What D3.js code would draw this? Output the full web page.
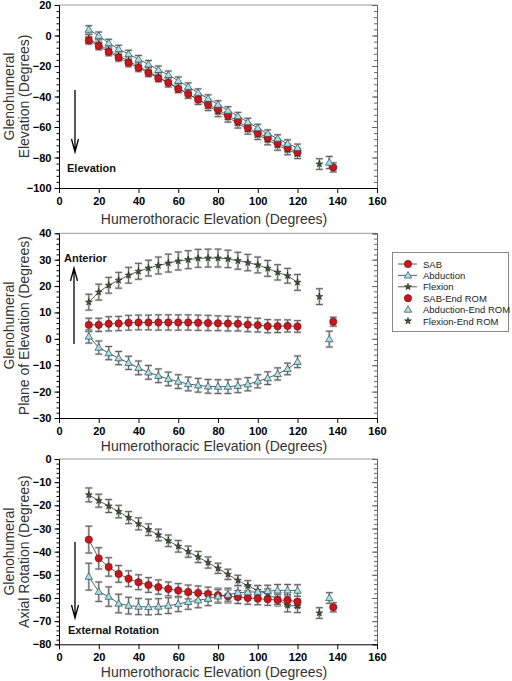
<!DOCTYPE html>
<html><head><meta charset="utf-8">
<script src="https://cdn.jsdelivr.net/npm/d3@7"></script>
<style>body{margin:0;background:#fff}svg{display:block}</style>
</head><body>
<script>
// ---------- DATA ----------
const elevX = [15,20,25,30,35,40,45,50,55,60,65,70,75,80,85,90,95,100,105,110,115,120];
const seriesNames = ["SAB","Abduction","Flexion"];
const endRomX = [138,136,131]; // SAB, Abduction, Flexion end ROM

// Panel 1: Glenohumeral elevation
const p1SAB  = [-3.3,-6.9,-10.8,-14.5,-18,-21.2,-24.5,-28,-31,-35,-38.4,-42,-45.3,-48.6,-52.5,-56.2,-60.5,-64,-67,-70.5,-73.7,-76.5];
const p1Abd  = [3.9,-0.2,-5,-8.9,-12.2,-15.6,-18.9,-22.5,-25.8,-29.7,-33.6,-37.5,-41.4,-45.3,-49.2,-52.9,-56.8,-60.7,-64.4,-67.6,-70.9,-73.7];
const p1Flex = [-2.3,-5.8,-9.8,-13.4,-16.8,-20.3,-23.8,-27.3,-30.8,-34.5,-38.2,-42,-46,-50,-53.6,-57.5,-61.5,-65,-68.5,-72,-75,-77.5];
const p1SABErr  = [2.5,2.5,2.5,2.5,2.5,2.5,2.5,2.5,2.5,2.5,2.5,2.5,2.5,2.5,2.5,2.5,2.5,2.5,2.5,2.5,2.5,2.5];
const p1AbdErr  = [2.5,2.5,2.5,2.5,2.5,2.5,2.5,2.5,2.5,2.5,2.5,2.5,2.5,2.5,2.5,2.5,2.5,2.5,2.5,2.5,2.5,2.5];
const p1FlexErr = [3,3,3,3,3,3,3,3,3,3,3,3.2,3.2,3.2,3.2,3.2,3.2,3.2,3.2,3.2,3.2,3.2];
const p1End    = [-86.5,-83.3,-84.3];
const p1EndErr = [3,4,3.5];

// Panel 2: Glenohumeral plane of elevation
const p2SAB  = [5.3,5.3,5.7,5.8,6.1,6.2,6.2,6.2,6.2,6.2,6.2,6.1,6,5.9,5.8,5.7,5.4,5.2,4.8,4.8,4.9,4.7];
const p2Abd  = [0.9,-3.3,-5.4,-7.3,-9.1,-11,-12.7,-14,-15.2,-16.2,-17.1,-17.6,-18,-18.1,-18.1,-17.8,-17.2,-16.1,-14.9,-13.3,-11.4,-8.7];
const p2Flex = [13.9,17.7,20.3,22.2,24.1,25.6,26.8,27.8,28.7,29.5,30,30.5,30.6,30.6,30.3,29.6,28.9,28,26.7,25.2,23.9,21.4];
const p2SABErr  = [2.5,2.5,2.7,2.7,2.8,2.8,2.8,2.9,2.9,2.9,2.9,2.9,2.9,2.8,2.8,2.7,2.7,2.6,2.5,2.4,2.3,2.2];
const p2AbdErr  = [2.5,2.5,2.5,2.5,2.5,2.6,2.6,2.6,2.6,2.6,2.6,2.6,2.6,2.6,2.6,2.6,2.5,2.5,2.4,2.3,2.2,2.2];
const p2FlexErr = [3,3,3,3,3,3,3,3.2,3.4,3.4,3.4,3.4,3.4,3.4,3.3,3.2,3.1,3,3,2.9,2.8,3];
const p2End    = [6.5,-0.1,16];
const p2EndErr = [1.7,3,3];

// Panel 3: Glenohumeral axial rotation
const p3SAB  = [-34.8,-42.9,-46.6,-49.6,-51.7,-53.2,-54.4,-55.3,-56.1,-56.8,-57.4,-57.8,-58.3,-58.8,-59.3,-59.6,-60,-60.3,-60.6,-60.9,-61,-61.6];
const p3Abd  = [-50.8,-57.3,-59.4,-62.4,-63.3,-63.7,-63.9,-63.7,-63.3,-62.6,-61.7,-61,-60.3,-59.3,-58.6,-57.7,-57.5,-57.3,-57,-56.7,-56.7,-56.8];
const p3Flex = [-15.5,-18,-20.3,-22.7,-25.3,-28,-30.5,-32.8,-35.3,-37.7,-40,-42.3,-44.7,-47.2,-49.8,-52.4,-54.7,-56.8,-58.3,-60.6,-63.2,-63.5];
const p3SABErr  = [5.8,4.6,4,3.6,3.4,3.2,3.2,3.1,3,3,3,3,3,3,2.8,2.8,2.7,2.6,2.6,2.5,2.5,2.5];
const p3AbdErr  = [5.8,4.2,4.2,4,3.6,3.5,3.4,3.4,3.4,3.3,3.2,3.2,3,2.9,2.8,2.8,2.6,2.6,2.5,2.5,2.5,2.5];
const p3FlexErr = [3,2.8,2.8,2.7,2.6,2.6,2.5,2.5,2.5,2.5,2.4,2.4,2.4,2.2,2.2,2.2,2.2,2.2,2.2,2.2,2.8,2.8];
const p3End    = [-64,-60,-66.5];
const p3EndErr = [2,2.3,2.3];

const xTicks = [0,20,40,60,80,100,120,140,160];
const p1Ticks = [-100,-80,-60,-40,-20,0,20];
const p2Ticks = [-30,-20,-10,0,10,20,30,40];
const p3Ticks = [-80,-70,-60,-50,-40,-30,-20,-10,0];

// ---------- STYLE ----------
const colors = {SAB:"#c8161d", Abduction:"#a6e2e8", Flexion:"#3d5a2a"};
const W = 512, H = 681;
const svg = d3.select("body").append("svg").attr("width", W).attr("height", H);
const x = d3.scaleLinear().domain([0,160]).range([59,377]);
const font = "'Liberation Sans', Arial, sans-serif";

const panels = [
  {dom:[-100,20], r:[188,5], ticks:p1Ticks, minor:4, data:[p1SAB,p1Abd,p1Flex], err:[p1SABErr,p1AbdErr,p1FlexErr], end:p1End, endErr:p1EndErr,
   t1:"Glenohumeral", t2:"Elevation (Degrees)", xt:224,
   arrow:{x:75,y1:90,y2:152,label:"Elevation",lx:67,ly:172}},
  {dom:[-30,40], r:[418,233.3], ticks:p2Ticks, minor:2, data:[p2SAB,p2Abd,p2Flex], err:[p2SABErr,p2AbdErr,p2FlexErr], end:p2End, endErr:p2EndErr,
   t1:"Glenohumeral", t2:"Plane of Elevation (Degrees)", xt:451,
   arrow:{x:74,y1:344,y2:268,label:"Anterior",lx:64,ly:262}},
  {dom:[-80,0], r:[644.3,459], ticks:p3Ticks, minor:2, data:[p3SAB,p3Abd,p3Flex], err:[p3SABErr,p3AbdErr,p3FlexErr], end:p3End, endErr:p3EndErr,
   t1:"Glenohumeral", t2:"Axial Rotation (Degrees)", xt:676.5,
   arrow:{x:75,y1:542,y2:618,label:"External Rotation",lx:68,ly:634}}
];

function marker(g, name, cx, cy) {
  if (name === "SAB") {
    g.append("circle").attr("cx",cx).attr("cy",cy).attr("r",3.7)
      .attr("fill",colors.SAB).attr("stroke","#5a0a0a").attr("stroke-width",0.5);
  } else if (name === "Abduction") {
    g.append("path").attr("d", d3.symbol(d3.symbolTriangle, 24)())
      .attr("transform",`translate(${cx},${cy+0.5})`)
      .attr("fill",colors.Abduction).attr("stroke","#2a4a50").attr("stroke-width",0.7);
  } else {
    g.append("path").attr("d", d3.symbol(d3.symbolStar, 15)())
      .attr("transform",`translate(${cx},${cy})`)
      .attr("fill",colors.Flexion).attr("stroke","#111").attr("stroke-width",0.5);
  }
}

function errbar(g, cx, y, v, e) {
  const yt = y(v+e), yb = y(v-e);
  const cw = 3.5;
  g.append("path").attr("d",`M${cx},${yt}V${yb}M${cx-cw},${yt}H${cx+cw}M${cx-cw},${yb}H${cx+cw}`)
    .attr("stroke","#cccccc").attr("stroke-width",2.4).attr("fill","none");
  g.append("path").attr("d",`M${cx},${yt}V${yb}M${cx-cw},${yt}H${cx+cw}M${cx-cw},${yb}H${cx+cw}`)
    .attr("stroke","#555").attr("stroke-width",0.9).attr("fill","none");
}

panels.forEach(p => {
  const y = d3.scaleLinear().domain(p.dom).range(p.r);
  const g = svg.append("g");
  const y0 = p.r[0], y1 = p.r[1];

  g.append("line").attr("x1",x(0)).attr("x2",x(160)).attr("y1",y1).attr("y2",y1).attr("stroke","#999").attr("stroke-width",1);
  const minorVals = d3.range(p.dom[0], p.dom[1]+0.001, p.minor);
  const rMinor = g.append("g").attr("transform",`translate(${x(160)},0)`)
    .call(d3.axisLeft(y).tickValues(minorVals).tickSize(3).tickFormat(""));
  const rMajor = g.append("g").attr("transform",`translate(${x(160)},0)`)
    .call(d3.axisLeft(y).tickValues(p.ticks).tickSize(5).tickFormat(""));
  [rMinor,rMajor].forEach(a => { a.selectAll("path,line").attr("stroke","#666"); });

  const lMinor = g.append("g").attr("transform",`translate(${x(0)},0)`)
    .call(d3.axisLeft(y).tickValues(minorVals).tickSize(2.5).tickFormat("").tickSizeOuter(0));
  const lMajor = g.append("g").attr("transform",`translate(${x(0)},0)`)
    .call(d3.axisLeft(y).tickValues(p.ticks).tickSize(4.5).tickSizeOuter(0).tickPadding(3));
  [lMinor,lMajor].forEach(a => a.selectAll("path,line").attr("stroke","#000"));
  lMajor.selectAll("text").attr("font-family",font).attr("font-weight","bold").attr("font-size","11px").attr("fill","#000");

  const bx = g.append("g").attr("transform",`translate(0,${y0})`)
    .call(d3.axisBottom(x).tickValues(xTicks).tickSize(5).tickSizeOuter(0).tickPadding(4));
  bx.selectAll("path,line").attr("stroke","#000");
  bx.selectAll("text").attr("font-family",font).attr("font-weight","bold").attr("font-size","11px").attr("fill","#000");

  g.append("text").attr("x",(x(0)+x(160))/2-4).attr("y",p.xt).attr("text-anchor","middle")
    .attr("font-family",font).attr("font-size","14px").attr("fill","#333").text("Humerothoracic Elevation (Degrees)");
  const cy = (y0+y1)/2;
  g.append("text").attr("transform",`translate(14,${cy}) rotate(-90)`).attr("text-anchor","middle")
    .attr("font-family",font).attr("font-size","14px").attr("fill","#333").text(p.t1);
  g.append("text").attr("transform",`translate(29,${cy}) rotate(-90)`).attr("text-anchor","middle")
    .attr("font-family",font).attr("font-size","14px").attr("fill","#333").text(p.t2);

  const a = p.arrow, dir = a.y2 > a.y1 ? 1 : -1;
  g.append("path").attr("d",`M${a.x},${a.y1}V${a.y2}M${a.x-3.5},${a.y2-dir*13}L${a.x},${a.y2}L${a.x+3.5},${a.y2-dir*13}`)
    .attr("stroke","#000").attr("stroke-width",1.3).attr("fill","none");
  g.append("text").attr("x",a.lx).attr("y",a.ly).attr("font-family",font).attr("font-weight","bold")
    .attr("font-size","11px").attr("fill","#111").text(a.label);

  const line = d3.line().x((d,i)=>x(elevX[i])).y(d=>y(d));
  p.data.forEach(s => {
    g.append("path").attr("d",line(s)).attr("fill","none").attr("stroke","#333").attr("stroke-width",0.8);
  });
  p.data.forEach((s,k) => s.forEach((v,i) => errbar(g, x(elevX[i]), y, v, p.err[k][i])));
  p.end.forEach((v,k) => errbar(g, x(endRomX[k]), y, v, p.endErr[k]));
  [2,0,1].forEach(k => {
    p.data[k].forEach((v,i) => marker(g, seriesNames[k], x(elevX[i]), y(v)));
    marker(g, seriesNames[k], x(endRomX[k]), y(p.end[k]));
  });
});

// ---------- LEGEND ----------
const lg = svg.append("g");
lg.append("rect").attr("x",392.5).attr("y",252.5).attr("width",116).attr("height",79)
  .attr("fill","#fff").attr("stroke","#888").attr("stroke-width",1);
const legendLabels = ["SAB","Abduction","Flexion","SAB-End ROM","Abduction-End ROM","Flexion-End ROM"];
legendLabels.forEach((lab,i) => {
  const ly = 264 + i*11.4;
  const k = i % 3;
  if (i < 3) lg.append("line").attr("x1",398).attr("x2",417).attr("y1",ly).attr("y2",ly).attr("stroke","#333").attr("stroke-width",0.8);
  marker(lg, seriesNames[k], 408, ly);
  lg.append("text").attr("x",423).attr("y",ly+3.5).attr("font-family",font).attr("font-size","9.5px").attr("fill","#222").text(lab);
});
</script>
</body></html>
